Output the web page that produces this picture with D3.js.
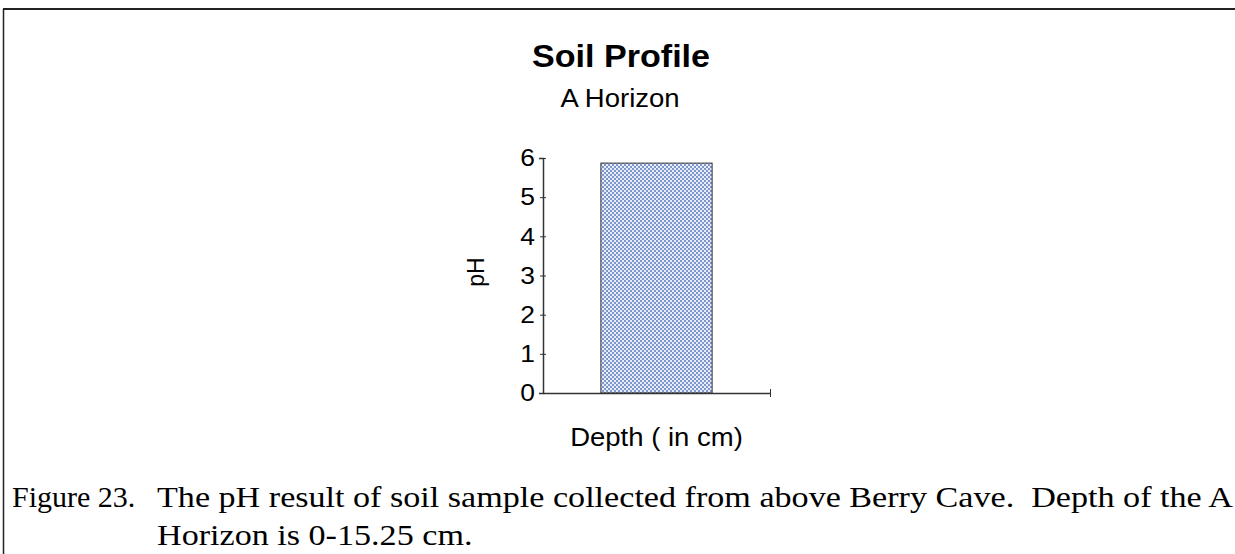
<!DOCTYPE html>
<html>
<head>
<meta charset="utf-8">
<script src="https://cdn.jsdelivr.net/npm/d3@7"></script>
<style>
  body { margin: 0; background: #fff; }
  svg { display: block; }
</style>
</head>
<body>
<div id="chart"></div>
<script>
// Data
const categories = ["A Horizon"];
const phValues = [5.87];
const yTicks = [0, 1, 2, 3, 4, 5, 6];
const captionHead = "Figure 23.";
const captionLine1 = "The pH result of soil sample collected from above Berry Cave.  Depth of the A";
const captionLine2 = "Horizon is 0-15.25 cm.";

const width = 1235;
const height = 554;
const plot = { left: 543, right: 770, top: 158, bottom: 393 };
const stretch = 1.1; // the scan is a bit wider than tall
const sans = "'Liberation Sans', Arial, sans-serif";
const serif = "'Liberation Serif', 'Times New Roman', serif";

const svg = d3.select("#chart")
    .append("svg")
    .attr("width", width)
    .attr("height", height);

// dotted fill like the old Excel pattern
const defs = svg.append("defs");
const pat = defs.append("pattern")
    .attr("id", "dots")
    .attr("width", 4)
    .attr("height", 4)
    .attr("patternUnits", "userSpaceOnUse");
pat.append("rect").attr("width", 4).attr("height", 4).attr("fill", "#e8edf8");
pat.append("circle").attr("cx", 1).attr("cy", 1).attr("r", 1.0).attr("fill", "#5a79c0");
pat.append("circle").attr("cx", 3).attr("cy", 3).attr("r", 1.0).attr("fill", "#5a79c0");

// page frame (top and left rules of the scanned page)
svg.append("line")
    .attr("x1", 3).attr("x2", width).attr("y1", 9).attr("y2", 9)
    .attr("stroke", "#222").attr("stroke-width", 2);
svg.append("line")
    .attr("x1", 3.5).attr("x2", 3.5).attr("y1", 9).attr("y2", height)
    .attr("stroke", "#222").attr("stroke-width", 1.5);

// Scales
const xScale = d3.scaleBand()
    .domain(categories)
    .range([plot.left, plot.right])
    .paddingInner(0.51)
    .paddingOuter(0.255);

const yScale = d3.scaleLinear()
    .domain([0, 6])
    .range([plot.bottom, plot.top]);

// Bar
svg.selectAll(".bar")
    .data(phValues)
    .enter().append("rect")
    .attr("class", "bar")
    .attr("x", (d, i) => xScale(categories[i]))
    .attr("y", d => yScale(d))
    .attr("width", xScale.bandwidth())
    .attr("height", d => yScale(0) - yScale(d))
    .attr("fill", "url(#dots)")
    .attr("stroke", "#333")
    .attr("stroke-width", 1);

// y axis
const yAxis = d3.axisLeft(yScale).tickValues(yTicks).tickFormat(d3.format("d")).tickSize(4).tickPadding(4);
const gy = svg.append("g")
    .attr("transform", `translate(${plot.left},0)`)
    .call(yAxis);
gy.select(".domain").attr("stroke", "#333").attr("stroke-width", 1.5);
gy.selectAll(".tick line").attr("x1", 3).attr("x2", -3).attr("stroke", "#333");
gy.selectAll(".tick text")
    .attr("font-family", sans)
    .attr("font-size", 24)
    .attr("fill", "#000")
    .attr("transform", `translate(-8,0) scale(${stretch},1) translate(8,0)`);

// x axis - ticks only at the category edges
const xEdge = d3.scaleLinear().domain([0, 1]).range([plot.left, plot.right]);
const gx = svg.append("g")
    .attr("transform", `translate(0,${plot.bottom})`)
    .call(d3.axisBottom(xEdge).tickValues([1]).tickFormat("").tickSizeOuter(0));
gx.select(".domain").attr("stroke", "#333").attr("stroke-width", 1.5);
gx.selectAll(".tick line").attr("y1", -4).attr("y2", 4).attr("stroke", "#333");

// centred text, stretched a little horizontally like the scan
function label(x, y, str, size, weight) {
    svg.append("text")
        .attr("transform", `translate(${x},${y}) scale(${stretch},1)`)
        .attr("text-anchor", "middle")
        .attr("font-family", sans)
        .attr("font-weight", weight || "normal")
        .attr("font-size", size)
        .style("white-space", "pre")
        .text(str);
}

label(621, 67, "Soil Profile", 31, "bold");
label(620, 107, "A Horizon", 25);
label((plot.left + plot.right) / 2, 446, "Depth ( in cm)", 25);

svg.append("text")
    .attr("transform", "translate(484,272) rotate(-90)")
    .attr("text-anchor", "middle")
    .attr("font-family", sans)
    .attr("font-size", 23)
    .text("pH");

// figure caption - first line runs out to the page edge
const capG = svg.append("g")
    .attr("font-family", serif)
    .attr("font-size", 30)
    .attr("fill", "#000");
capG.append("text").attr("x", 12).attr("y", 507)
    .style("white-space", "pre").text(captionHead);
const l1 = capG.append("text").attr("x", 157).attr("y", 507)
    .style("white-space", "pre").text(captionLine1);
const l2 = capG.append("text").attr("x", 157).attr("y", 545)
    .style("white-space", "pre").text(captionLine2);

const lineEnd = 1233;
const capScale = (lineEnd - 157) / l1.node().getComputedTextLength();
[l1, l2].forEach(t => {
    t.attr("textLength", t.node().getComputedTextLength() * capScale)
        .attr("lengthAdjust", "spacingAndGlyphs");
});
</script>
</body>
</html>
